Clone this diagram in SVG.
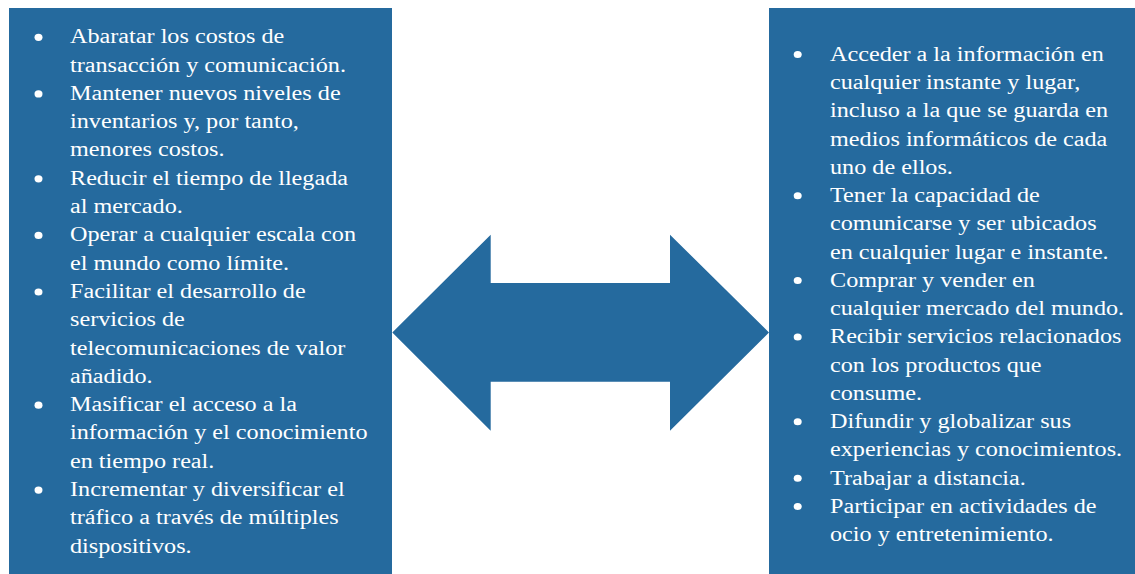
<svg xmlns="http://www.w3.org/2000/svg" width="1135" height="574" viewBox="0 0 1135 574">
<style>
.box{fill:#256A9E}
.t{font-family:"Liberation Serif","Times New Roman",serif;font-size:21.3px;fill:#ffffff}
.b{fill:#ffffff}
</style>
<rect width="1135" height="574" fill="#ffffff"/>
<g id="left">
<rect class="box" x="9" y="8" width="383" height="566"/>
<g class="b">
<ellipse cx="38.5" cy="37.3" rx="4" ry="3.6"/>
<ellipse cx="38.5" cy="93.9" rx="4" ry="3.6"/>
<ellipse cx="38.5" cy="178.8" rx="4" ry="3.6"/>
<ellipse cx="38.5" cy="235.4" rx="4" ry="3.6"/>
<ellipse cx="38.5" cy="292" rx="4" ry="3.6"/>
<ellipse cx="38.5" cy="405.2" rx="4" ry="3.6"/>
<ellipse cx="38.5" cy="490.1" rx="4" ry="3.6"/>
</g>
<text class="t" transform="translate(70,0) scale(1.136,1)">
<tspan x="0" y="43.3">Abaratar los costos de</tspan>
<tspan x="0" y="71.6">transacción y comunicación.</tspan>
<tspan x="0" y="99.9">Mantener nuevos niveles de</tspan>
<tspan x="0" y="128.2">inventarios y, por tanto,</tspan>
<tspan x="0" y="156.5">menores costos.</tspan>
<tspan x="0" y="184.8">Reducir el tiempo de llegada</tspan>
<tspan x="0" y="213.1">al mercado.</tspan>
<tspan x="0" y="241.4">Operar a cualquier escala con</tspan>
<tspan x="0" y="269.7">el mundo como límite.</tspan>
<tspan x="0" y="298">Facilitar el desarrollo de</tspan>
<tspan x="0" y="326.3">servicios de</tspan>
<tspan x="0" y="354.6">telecomunicaciones de valor</tspan>
<tspan x="0" y="382.9">añadido.</tspan>
<tspan x="0" y="411.2">Masificar el acceso a la</tspan>
<tspan x="0" y="439.5">información y el conocimiento</tspan>
<tspan x="0" y="467.8">en tiempo real.</tspan>
<tspan x="0" y="496.1">Incrementar y diversificar el</tspan>
<tspan x="0" y="524.4">tráfico a través de múltiples</tspan>
<tspan x="0" y="552.7">dispositivos.</tspan>
</text>
</g>
<g id="right">
<rect class="box" x="769" y="8" width="366" height="566"/>
<g class="b">
<ellipse cx="797.7" cy="54.5" rx="4" ry="3.6"/>
<ellipse cx="797.7" cy="195.75" rx="4" ry="3.6"/>
<ellipse cx="797.7" cy="280.5" rx="4" ry="3.6"/>
<ellipse cx="797.7" cy="337" rx="4" ry="3.6"/>
<ellipse cx="797.7" cy="421.75" rx="4" ry="3.6"/>
<ellipse cx="797.7" cy="478.25" rx="4" ry="3.6"/>
<ellipse cx="797.7" cy="506.5" rx="4" ry="3.6"/>
</g>
<text class="t" transform="translate(830,0) scale(1.136,1)">
<tspan x="0" y="61">Acceder a la información en</tspan>
<tspan x="0" y="89.25">cualquier instante y lugar,</tspan>
<tspan x="0" y="117.5">incluso a la que se guarda en</tspan>
<tspan x="0" y="145.75">medios informáticos de cada</tspan>
<tspan x="0" y="174">uno de ellos.</tspan>
<tspan x="0" y="202.25">Tener la capacidad de</tspan>
<tspan x="0" y="230.5">comunicarse y ser ubicados</tspan>
<tspan x="0" y="258.75">en cualquier lugar e instante.</tspan>
<tspan x="0" y="287">Comprar y vender en</tspan>
<tspan x="0" y="315.25">cualquier mercado del mundo.</tspan>
<tspan x="0" y="343.5">Recibir servicios relacionados</tspan>
<tspan x="0" y="371.75">con los productos que</tspan>
<tspan x="0" y="400">consume.</tspan>
<tspan x="0" y="428.25">Difundir y globalizar sus</tspan>
<tspan x="0" y="456.5">experiencias y conocimientos.</tspan>
<tspan x="0" y="484.75">Trabajar a distancia.</tspan>
<tspan x="0" y="513">Participar en actividades de</tspan>
<tspan x="0" y="541.25">ocio y entretenimiento.</tspan>
</text>
</g>
<g id="connectors">
<polygon class="box" points="392.3,332.5 490.7,234.7 490.7,283 670,283 670,234.7 769,332.5 670,430.7 670,381.7 490.7,381.7 490.7,430.7"/>
</g>
</svg>
